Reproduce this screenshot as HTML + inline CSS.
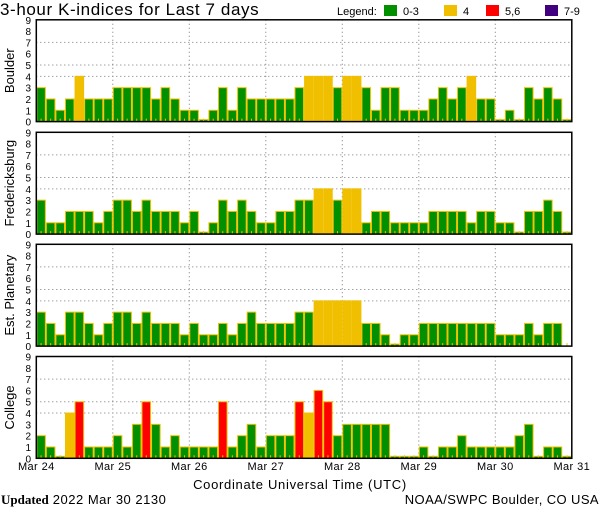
<!DOCTYPE html>
<html><head><meta charset="utf-8"><style>
body{margin:0;background:#fff;width:600px;height:510px;overflow:hidden;font-family:"Liberation Sans",sans-serif}
svg{display:block}
</style></head><body>
<svg id="c" width="600" height="510" xmlns="http://www.w3.org/2000/svg"></svg>
<script>
const stations = ["Boulder","Fredericksburg","Est. Planetary","College"];
const dayLabels = ["Mar 24","Mar 25","Mar 26","Mar 27","Mar 28","Mar 29","Mar 30","Mar 31"];
const yTicks = [0,1,2,3,4,5,6,7,8,9];
const boulder = [3,2,1,2,4,2,2,2, 3,3,3,3,2,3,2,1, 1,0,1,3,1,3,2,2, 2,2,2,3,4,4,4,3, 4,4,3,1,3,3,1,1, 1,2,3,2,3,4,2,2, 0,1,0,3,2,3,2,0];
const fredericksburg = [3,1,1,2,2,2,1,2, 3,3,2,3,2,2,2,1, 2,0,1,3,2,3,2,1, 1,2,2,3,3,4,4,3, 4,4,1,2,2,1,1,1, 1,2,2,2,2,1,2,2, 1,1,0,2,2,3,2,0];
const planetary = [3,2,1,3,3,2,1,2, 3,3,2,3,2,2,2,1, 2,1,1,2,1,2,3,2, 2,2,2,3,3,4,4,4, 4,4,2,2,1,0,1,1, 2,2,2,2,2,2,2,2, 1,1,1,2,1,2,2,null];
const college = [2,1,0,4,5,1,1,1, 2,1,3,5,3,1,2,1, 1,1,1,5,1,2,3,1, 2,2,2,5,4,6,5,2, 3,3,3,3,3,0,0,0, 1,0,1,1,2,1,1,1, 1,1,2,3,0,1,1,0];
const series = [boulder,fredericksburg,planetary,college];

const NS="http://www.w3.org/2000/svg";
const svg=document.getElementById('c');
function el(t,a,p){const e=document.createElementNS(NS,t);for(const k in a)e.setAttribute(k,a[k]);(p||svg).appendChild(e);return e;}
const X0=36.3, DAY=76.5, BW=DAY/8;
const tops=[19.8,132.3,244.3,356.5], H=101.8;
function xPos(i){return X0+i*BW;}
function yPos(top,v){return top+H-v*(H/9);}
function color(v){return v<=3?"#009000":v==4?"#f0c000":v<=6?"#ff0000":"#400080";}

let t=el('text',{x:0,y:15,'font-size':17,'letter-spacing':0.6,fill:'#000'});t.textContent="3-hour K-indices for Last 7 days";

const lg=el('g',{});
t=el('text',{x:337,y:15,'font-size':11},lg);t.textContent="Legend:";
const legItems=[["0-3","#009000",384],["4","#f0c000",444],["5,6","#ff0000",486],["7-9","#400080",545]];
legItems.forEach(l=>{
  const g=el('g',{},lg);
  
  
  el('rect',{x:l[2],y:5,width:13,height:11,fill:l[1]},g);
  const tt=el('text',{x:l[2]+19,y:15,'font-size':11},g);tt.textContent=l[0];
});

stations.forEach((name,si)=>{
  const top=tops[si];const g=el('g',{});
  
  
  [4,5,7].forEach(v=>el('line',{x1:X0,x2:X0+7*DAY,y1:yPos(top,v),y2:yPos(top,v),stroke:'#777','stroke-dasharray':'1,3'},g));
  for(let d=1;d<7;d++)el('line',{x1:X0+d*DAY,x2:X0+d*DAY,y1:top,y2:top+H,stroke:'#777','stroke-dasharray':'1,3'},g);
  series[si].forEach((v,i)=>{
    if(v===null){el('rect',{x:xPos(i)+BW/2-0.5,y:top+H-3,width:1,height:3,fill:'#f0c000'},g);return;}
    const y=v===0?top+H-2:yPos(top,v);
    const r=el('rect',{x:xPos(i)+0.5,y:y,width:BW-1,height:top+H-y,fill:color(v),stroke:'#f0c000','stroke-width':1},g);
    
    
    el('rect',{x:xPos(i)+BW/2-0.5,y:top+H-3,width:1,height:3,fill:'#f0c000'},g);
  });
  el('rect',{x:X0,y:top,width:7*DAY,height:H,fill:'none',stroke:'#000','stroke-width':1.5},g);
  yTicks.forEach(v=>{const tt=el('text',{x:31,y:yPos(top,v)+4,'font-size':10,'text-anchor':'end'},g);tt.textContent=v;});
  const cy=top+H/2;
  const sl=el('text',{x:14,y:cy,'font-size':13,'text-anchor':'middle',transform:`rotate(-90 14 ${cy})`},g);
  sl.textContent=name;
  
  
});
dayLabels.forEach((d,i)=>{
  const tt=el('text',{x:X0+i*DAY,y:470,'font-size':11,'letter-spacing':0.4,'text-anchor':'middle'});tt.textContent=d;
  
  
});
t=el('text',{x:300,y:489,'font-size':13,'letter-spacing':0.7,'text-anchor':'middle'});t.textContent="Coordinate Universal Time (UTC)";

t=el('text',{x:1,y:504,'font-size':13,'font-family':'Liberation Serif, serif'});
t.innerHTML='<tspan font-weight="bold">Updated</tspan><tspan font-family="Liberation Sans, sans-serif" letter-spacing="0.5"> 2022 Mar 30 2130</tspan>';

t=el('text',{x:599,y:504,'font-size':13,'letter-spacing':0.4,'text-anchor':'end'});t.textContent="NOAA/SWPC Boulder, CO USA";

</script>
</body></html>
